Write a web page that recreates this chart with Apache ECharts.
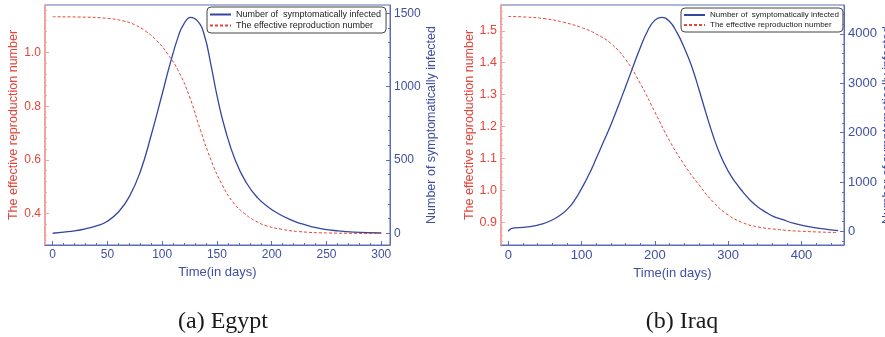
<!DOCTYPE html>
<html>
<head>
<meta charset="utf-8">
<script src="https://cdn.jsdelivr.net/npm/echarts@6/dist/echarts.min.js"></script>
<style>
  html, body { margin: 0; padding: 0; background: #fff; }
  #main { width: 885px; height: 337px; }
</style>
</head>
<body>
<div id="main"></div>
<script>
// Egypt (panel a)
const egyptInfDays = [0, 10, 20, 30, 40, 50, 60, 70, 80, 90, 100, 107, 115, 120, 126, 132, 138, 145, 150, 157, 167, 177, 187, 197, 207, 217, 227, 237, 247, 257, 275, 300]
const egyptInfected = [0, 8, 16, 30, 50, 82, 145, 250, 420, 670, 950, 1150, 1350, 1430, 1473, 1450, 1364, 1130, 940, 723, 493, 343, 243, 178, 130, 93, 65, 44, 29, 19, 8, 2]
const egyptReDays = [0, 25, 50, 65, 75, 85, 95, 105, 115, 125, 135, 145, 155, 165, 175, 185, 195, 210, 225, 250, 300]
const egyptRe = [1.134, 1.133, 1.128, 1.118, 1.104, 1.08, 1.045, 0.995, 0.93, 0.835, 0.71, 0.595, 0.505, 0.44, 0.4, 0.372, 0.354, 0.34, 0.332, 0.327, 0.325]
const egyptDayTicks = [0, 50, 100, 150, 200, 250, 300]
const egyptReTicks = [0.4, 0.6, 0.8, 1.0]
const egyptInfTicks = [0, 500, 1000, 1500]

// Iraq (panel b)
const iraqInfDays = [0, 2, 5, 10, 20, 30, 45, 60, 70, 80, 90, 100, 110, 120, 130, 140, 150, 160, 170, 180, 190, 200, 209, 220, 230, 240, 250, 260, 270, 280, 290, 300, 310, 320, 330, 340, 350, 360, 375, 390, 410, 430, 450]
const iraqInfected = [0, 35, 62, 72, 80, 95, 145, 230, 320, 440, 620, 870, 1150, 1480, 1820, 2160, 2540, 2930, 3330, 3720, 4060, 4280, 4337, 4250, 4030, 3720, 3350, 2880, 2380, 1910, 1520, 1220, 990, 800, 630, 500, 400, 315, 235, 160, 95, 50, 15]
const iraqReDays = [0, 25, 50, 75, 100, 120, 140, 160, 180, 200, 220, 240, 260, 280, 300, 320, 340, 370, 400, 450]
const iraqRe = [1.545, 1.543, 1.538, 1.527, 1.51, 1.49, 1.46, 1.41, 1.335, 1.245, 1.155, 1.08, 1.017, 0.962, 0.922, 0.898, 0.885, 0.876, 0.871, 0.867]
const iraqDayTicks = [0, 100, 200, 300, 400]
const iraqReTicks = [0.9, 1.0, 1.1, 1.2, 1.3, 1.4, 1.5]
const iraqInfTicks = [0, 1000, 2000, 3000, 4000]

const INF_NAME = "Number of  symptomatically infected"
const RE_NAME = "The effective reproduction number"

const RED = "#e4453b"
const RED_AXIS = "#f3a3a0"
const BLUE = "#3f4fa2"
const BLUE_AXIS = "#5d6cb4"
const FONT = "'Liberation Sans', Arial, sans-serif"

function zip(xs, ys) {
  return xs.map((x, i) => [x, ys[i]])
}

// minor tick positions between major ticks
function minors(ticks, n) {
  let out = []
  let d = ticks[1] - ticks[0]
  for (let k = -n; k <= (ticks.length) * n; k++) {
    if (k % n === 0) continue
    out.push(+(ticks[0] + k * d / n).toFixed(6))
  }
  return out
}

function axis(kind, o) {
  let ax = {
    type: "value",
    gridIndex: o.grid,
    position: o.position,
    min: o.min,
    max: o.max,
    splitLine: { show: false },
    axisLine: { show: true, onZero: false, lineStyle: { color: o.lineColor, width: o.lineWidth || 1 } },
    axisTick: { show: true, inside: true, length: 4, lineStyle: { color: o.lineColor }, customValues: o.ticks },
    axisLabel: {
      customValues: o.ticks, color: o.color, fontSize: o.fontSize, fontFamily: FONT, margin: 4,
      formatter: o.fmt || (v => String(v))
    },
    name: o.name,
    nameLocation: "middle",
    nameGap: o.nameGap,
    nameTextStyle: { color: o.color, fontSize: o.nameSize || 12.5, fontFamily: FONT }
  }
  if (kind === "y") ax.nameRotate = 90
  return ax
}

function minorAxis(o) {
  let lo = o.min, hi = o.max
  return {
    type: "value",
    gridIndex: o.grid,
    position: o.position,
    min: lo,
    max: hi,
    splitLine: { show: false },
    axisLine: { show: false, onZero: false },
    axisTick: {
      show: true, inside: true, length: 2, lineStyle: { color: o.lineColor },
      customValues: minors(o.ticks, o.n).filter(v => v > lo && v < hi)
    },
    axisLabel: { show: false }
  }
}

const panels = [
  {
    x: { grid: 0, position: "bottom", min: -7, max: 308, ticks: egyptDayTicks, n: 5, color: BLUE, lineColor: BLUE_AXIS, fontSize: 12, name: "Time(in days)", nameGap: 19, nameSize: 13 },
    yl: { grid: 0, position: "left", min: 0.282, max: 1.178, ticks: egyptReTicks, n: 5, color: RED, lineColor: RED_AXIS, lineWidth: 2, fontSize: 12, name: RE_NAME, nameGap: 20, fmt: v => v.toFixed(1) },
    yr: { grid: 0, position: "right", min: -80, max: 1557, ticks: egyptInfTicks, n: 5, color: BLUE, lineColor: BLUE_AXIS, fontSize: 12, name: "Number of symptomatically infected", nameGap: 34 }
  },
  {
    x: { grid: 1, position: "bottom", min: -10, max: 458, ticks: iraqDayTicks, n: 5, color: BLUE, lineColor: BLUE_AXIS, fontSize: 13, name: "Time(in days)", nameGap: 19, nameSize: 13 },
    yl: { grid: 1, position: "left", min: 0.828, max: 1.581, ticks: iraqReTicks, n: 5, color: RED, lineColor: RED_AXIS, lineWidth: 2, fontSize: 12.5, name: RE_NAME, nameGap: 21, fmt: v => v.toFixed(1) },
    yr: { grid: 1, position: "right", min: -277, max: 4586, ticks: iraqInfTicks, n: 5, color: BLUE, lineColor: BLUE_AXIS, fontSize: 13, name: "Number of symptomatically infected", nameGap: 34 }
  }
]

let xAxes = [], yAxes = []
panels.forEach(p => {
  xAxes.push(axis("x", p.x), minorAxis(p.x))
  yAxes.push(axis("y", p.yl), minorAxis(p.yl), axis("y", p.yr), minorAxis(p.yr))
})

function infSeries(data, xi, yi) {
  return {
    name: INF_NAME, type: "line", data: data, xAxisIndex: xi, yAxisIndex: yi,
    showSymbol: false, symbol: "none", smooth: 0.5,
    lineStyle: { color: "#3446a0", width: 1.3 }, itemStyle: { color: "#3446a0" }
  }
}

function reSeries(data, xi, yi) {
  return {
    name: RE_NAME, type: "line", data: data, xAxisIndex: xi, yAxisIndex: yi,
    showSymbol: false, symbol: "none", smooth: 0.5,
    lineStyle: { color: RED, width: 1, type: [3, 2] }, itemStyle: { color: RED }
  }
}

function legend(left, top, size, pad) {
  return {
    data: [INF_NAME, RE_NAME],
    orient: "vertical",
    left: left, top: top,
    itemWidth: 21, itemHeight: 10, itemGap: 2,
    padding: pad,
    borderColor: "#444", borderWidth: 1, borderRadius: 4,
    backgroundColor: "#fff",
    selectedMode: false,
    itemStyle: { opacity: 0 },
    textStyle: { fontSize: size, color: "#222", fontFamily: FONT }
  }
}

const chart = echarts.init(document.getElementById("main"))
chart.setOption({
  animation: false,
  backgroundColor: "#fff",
  title: [
    { text: "(a) Egypt", left: 223, top: 310, textAlign: "center", padding: 0,
      textStyle: { fontFamily: "'Liberation Serif', serif", fontSize: 24, fontWeight: "normal", color: "#1a1a1a" } },
    { text: "(b) Iraq", left: 682, top: 310, textAlign: "center", padding: 0,
      textStyle: { fontFamily: "'Liberation Serif', serif", fontSize: 24, fontWeight: "normal", color: "#1a1a1a" } }
  ],
  grid: [
    { left: 45, top: 5, width: 345, height: 240, show: true, borderColor: BLUE_AXIS, borderWidth: 1, outerBoundsMode: "none", containLabel: false },
    { left: 501, top: 5, width: 343, height: 240, show: true, borderColor: BLUE_AXIS, borderWidth: 1, outerBoundsMode: "none", containLabel: false }
  ],
  legend: [
    legend(207, 7, 9, [3, 5, 3, 2]),
    legend(681, 8, 8, [3, 4, 3, 2])
  ],
  xAxis: xAxes,
  yAxis: yAxes,
  series: [
    infSeries(zip(egyptInfDays, egyptInfected), 0, 2),
    reSeries(zip(egyptReDays, egyptRe), 0, 0),
    infSeries(zip(iraqInfDays, iraqInfected), 2, 6),
    reSeries(zip(iraqReDays, iraqRe), 2, 4)
  ]
})
</script>
</body>
</html>
